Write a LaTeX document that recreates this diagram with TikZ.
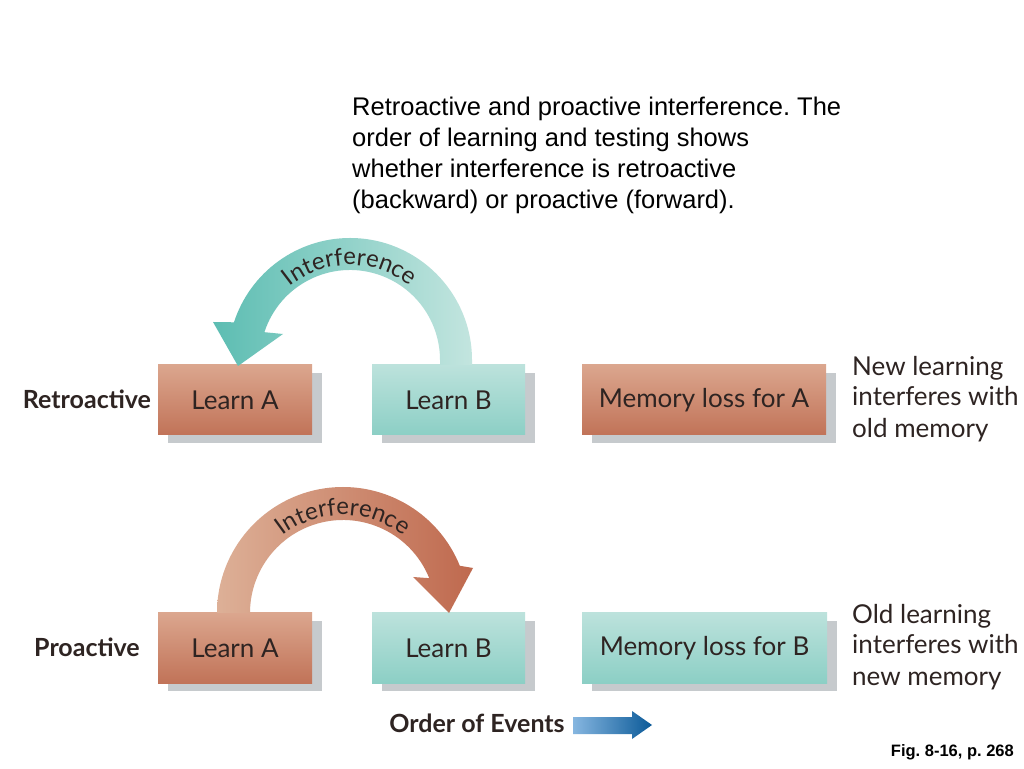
\documentclass[tikz,border=0pt]{standalone}
\usepackage{fontspec}
\setmainfont{Liberation Sans}
\newfontfamily\opt{Lato}
\usetikzlibrary{shadows,decorations.text,calc}
\definecolor{tealtop}{HTML}{BCE2DC}
\definecolor{tealbot}{HTML}{8CCFC5}
\definecolor{browntop}{HTML}{DBA68E}
\definecolor{brownbot}{HTML}{C17358}
\definecolor{shadowc}{HTML}{C6CACD}
\definecolor{txt}{HTML}{2E2422}
\definecolor{tealdark}{HTML}{5CBDB2}
\definecolor{teallight}{HTML}{C3E5DF}
\definecolor{brownlight}{HTML}{DDB097}
\definecolor{browndark}{HTML}{BF694E}
\definecolor{bluelight}{HTML}{86B6E0}
\definecolor{bluedark}{HTML}{0B5A98}
\frenchspacing
\begin{document}
\begin{tikzpicture}[x=1pt,y=1pt,
  box/.style={minimum height=70pt, inner sep=0pt, text=txt,
    font=\opt\fontsize{26}{26}\selectfont,
    drop shadow={shadow xshift=10pt, shadow yshift=-8pt, fill=shadowc, opacity=1}},
  brownbox/.style={box, top color=browntop, bottom color=brownbot},
  tealbox/.style={box, top color=tealtop, bottom color=tealbot},
  rowlabel/.style={font=\opt\bfseries\fontsize{25}{25}\selectfont, text=txt},
  sidetext/.style={anchor=base west, inner sep=0pt, font=\opt\fontsize{26}{26}\selectfont, text=txt},
  caption/.style={anchor=base west, inner sep=0pt, font=\fontsize{25.5}{25.5}\selectfont},
  arctext/.style={decorate, decoration={text along path, text align=center, text color=txt,
    text={|\opt\fontsize{24}{24}\selectfont|Interference}}}
]
\useasboundingbox (0,0) rectangle (1024,768);
\fill[white] (0,0) rectangle (1024,768);

% caption
\node[caption] (cap1) at (352,652) {Retroactive and proactive interference. The};
\node[caption] (cap2) at (352,621) {order of learning and testing shows};
\node[caption] (cap3) at (352,590) {whether interference is retroactive};
\node[caption] (cap4) at (352,559) {(backward) or proactive (forward).};

% row labels
\node[rowlabel] (retro) at (87,369) {Retroactive};
\node[rowlabel] (pro) at (87,121) {Proactive};

% boxes
\node[brownbox, minimum width=154pt] (laT) at (235,368) {Learn A};
\node[tealbox, minimum width=153pt] (lbT) at (448.5,368) {Learn B};
\node[brownbox, minimum width=244pt] (mA) at (704,368) {Memory loss for A};
\node[brownbox, minimum width=154pt] (laB) at (235,120) {Learn A};
\node[tealbox, minimum width=153pt] (lbB) at (448.5,120) {Learn B};
\node[tealbox, minimum width=245pt] (mB) at (704.5,120) {Memory loss for B};

% side texts
\node[sidetext] (n1) at (852,392) {New learning};
\node[sidetext] (n2) at (852,362) {interferes with};
\node[sidetext] (n3) at (852,330) {old memory};
\node[sidetext] (o1) at (852,145) {Old learning};
\node[sidetext] (o2) at (852,115) {interferes with};
\node[sidetext] (o3) at (852,83) {new memory};

% retroactive arc: Learn B -> Learn A
\coordinate (c1) at (350,408);
\shade[left color=tealdark, right color=teallight]
  (472,403) -- (472,408) arc[start angle=0, end angle=162, radius=122]
  -- (213,446) -- (238,402) -- (283,434)
  -- ($(c1)+(162:90)$) arc[start angle=162, end angle=0, radius=90]
  -- (440,403) -- cycle;
\path[arctext] ($(c1)+(150:95)$) arc[start angle=150, end angle=30, radius=95];

% proactive arc: Learn A -> Learn B
\coordinate (c2) at (343,155);
\shade[left color=brownlight, right color=browndark]
  (217,155) arc[start angle=180, end angle=22, radius=126]
  -- (473,200) -- (449,155) -- (413,191)
  -- ($(c2)+(22:93)$) arc[start angle=22, end angle=180, radius=93]
  -- cycle;
\path[arctext] ($(c2)+(150:98)$) arc[start angle=150, end angle=30, radius=98];

% order of events
\node[font=\opt\bfseries\fontsize{25}{25}\selectfont, text=txt] (order) at (477,45) {Order of Events};
\shade[left color=bluelight, right color=bluedark]
  (573,34) -- (632,34) -- (632,29) -- (652,43) -- (632,57) -- (632,51) -- (573,51) -- cycle;

% figure reference
\node[anchor=east, inner sep=0pt, font=\bfseries\fontsize{16.5}{16.5}\selectfont] (fig) at (1014,16) {Fig. 8-16, p. 268};
\end{tikzpicture}
\end{document}
